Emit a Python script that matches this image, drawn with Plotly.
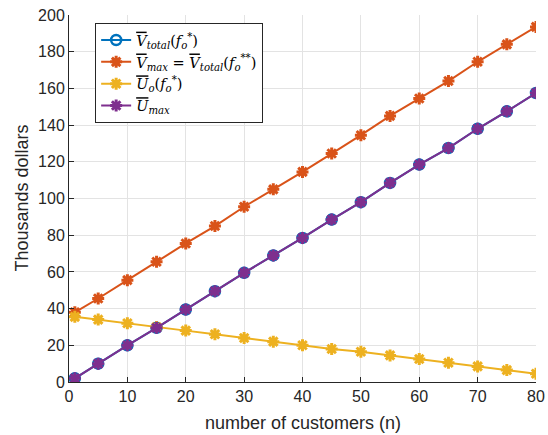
import plotly.graph_objects as go

n = [1, 5, 10, 15, 20, 25, 30, 35, 40, 45, 50, 55, 60, 65, 70, 75, 80]
v_total = [2, 10, 20, 29.5, 39.5, 49.5, 59.5, 69, 78.5, 88.5, 98, 108.5, 118.5, 127.5, 138, 147.5, 157.5]
v_max = [38, 45.5, 55.5, 65.5, 75.5, 85, 95.5, 105, 114.5, 124.5, 134.5, 145, 154.5, 164, 174.5, 184, 193.5]
u_o = [35.5, 34, 32, 30, 28, 26, 24, 22, 20, 18, 16.5, 14.5, 12.5, 10.5, 8.5, 6.5, 4.5]
u_max = [2, 10, 20, 29.5, 39.5, 49.5, 59.5, 69, 78.5, 88.5, 98, 108.5, 118.5, 127.5, 138, 147.5, 157.5]

x_ticks = [0, 10, 20, 30, 40, 50, 60, 70, 80]
y_ticks = [0, 20, 40, 60, 80, 100, 120, 140, 160, 180, 200]

OV = '<span style="text-decoration:overline">%s</span>'
names = [
    "<i>" + OV % "V" + "</i><sub><i>total</i></sub>(<i>f</i><sub><i>o</i></sub><sup>*</sup>)",
    "<i>" + OV % "V" + "</i><sub><i>max</i></sub> = <i>" + OV % "V" + "</i><sub><i>total</i></sub>(<i>f</i><sub><i>o</i></sub><sup>**</sup>)",
    "<i>" + OV % "U" + "</i><sub><i>o</i></sub>(<i>f</i><sub><i>o</i></sub><sup>*</sup>)",
    "<i>" + OV % "U" + "</i><sub><i>max</i></sub>",
]

star = dict(symbol="asterisk-open", size=10)

fig = go.Figure()
fig.add_trace(go.Scatter(x=n, y=v_total, name=names[0], mode="lines+markers",
                         line=dict(color="#0072BD", width=2),
                         marker=dict(symbol="circle-open", size=10, color="#0072BD", line=dict(width=2.5))))
fig.add_trace(go.Scatter(x=n, y=v_max, name=names[1], mode="lines+markers",
                         line=dict(color="#D95319", width=2),
                         marker=dict(**star, color="#D95319", line=dict(width=3, color="#D95319"))))
fig.add_trace(go.Scatter(x=n, y=u_o, name=names[2], mode="lines+markers",
                         line=dict(color="#EDB120", width=2),
                         marker=dict(**star, color="#EDB120", line=dict(width=3, color="#EDB120"))))
fig.add_trace(go.Scatter(x=n, y=u_max, name=names[3], mode="lines+markers",
                         line=dict(color="#7E2F8E", width=2),
                         marker=dict(**star, color="#7E2F8E", line=dict(width=3, color="#7E2F8E"))))

axis_common = dict(showgrid=True, gridcolor="#e3e3e3", gridwidth=1, zeroline=False,
                   showline=True, linecolor="#262626", linewidth=1, mirror=False,
                   ticks="inside", ticklen=5, tickcolor="#262626", automargin=False,
                   ticklabeloverflow="allow",
                   tickfont=dict(family="Liberation Sans, Arial, sans-serif", size=16, color="#262626"))

FONT = "Liberation Sans, Arial, sans-serif"

fig.update_layout(
    width=548, height=435,
    margin=dict(l=69, r=12, t=15, b=53),
    paper_bgcolor="white", plot_bgcolor="white",
    font=dict(family=FONT, color="#262626"),
    xaxis=dict(range=[0, 80], tickvals=x_ticks, **axis_common),
    yaxis=dict(range=[0, 200], tickvals=y_ticks, **axis_common),
    legend=dict(x=0.056, y=0.978, xanchor="left", yanchor="top",
                bgcolor="white", bordercolor="#262626", borderwidth=1,
                font=dict(family="DejaVu Serif, Liberation Serif, serif", size=14.5, color="#000000"),
                tracegroupgap=0, itemwidth=30),
    showlegend=True,
    annotations=[
        dict(text="number of customers (n)", xref="paper", yref="paper", x=0.5, y=0,
             xanchor="center", yanchor="middle", yshift=-41, showarrow=False,
             font=dict(family=FONT, size=18, color="#262626")),
        dict(text="Thousands dollars", xref="paper", yref="paper", x=0, y=0.5,
             xanchor="center", yanchor="middle", xshift=-48, textangle=-90, showarrow=False,
             font=dict(family=FONT, size=18, color="#262626")),
    ],
)

fig.write_html("out.html",
               config={"displayModeBar": False},
               post_script="document.body.style.margin='0';"
                           "document.body.style.overflow='hidden';"
                           "document.documentElement.style.overflow='hidden';")
